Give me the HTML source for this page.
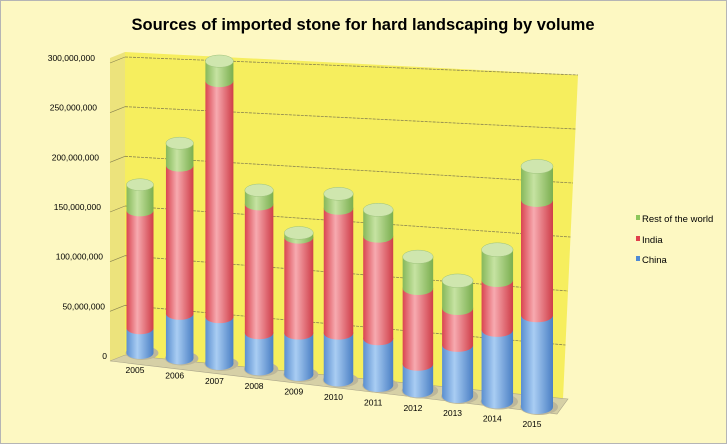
<!DOCTYPE html>
<html><head><meta charset="utf-8"><style>
html,body{margin:0;padding:0;background:#fdf8c2;}
svg{display:block;font-family:"Liberation Sans",sans-serif;}
</style></head><body>
<svg id="chart" width="727" height="444" viewBox="0 0 727 444">
<defs>
<linearGradient id="gBlue" x1="0" x2="1"><stop offset="0" stop-color="#5b8fd0"/><stop offset="0.4" stop-color="#a9cdf3"/><stop offset="1" stop-color="#4a7fc4"/></linearGradient>
<linearGradient id="gRed" x1="0" x2="1"><stop offset="0" stop-color="#d94550"/><stop offset="0.4" stop-color="#f7aab0"/><stop offset="1" stop-color="#cf3d48"/></linearGradient>
<linearGradient id="gGreen" x1="0" x2="1"><stop offset="0" stop-color="#86b85a"/><stop offset="0.4" stop-color="#c6e3a2"/><stop offset="1" stop-color="#7aae4f"/></linearGradient>
</defs>
<rect x="0.5" y="0.5" width="726" height="443" fill="#fdf8c2" stroke="#b5b5b5"/>
<text x="363" y="30" text-anchor="middle" font-size="16.5" font-weight="bold" fill="#000">Sources of imported stone for hard landscaping by volume</text>
<polygon points="110,58 125,52 125,355 110,361" fill="#ece37c"/>
<polygon points="125,52 578,75 563,399 125,355" fill="#f6ee5e"/>
<polygon points="110,361 125,355 568,399 557,414" fill="#d6d0a6" stroke="#aaa58a" stroke-width="0.6"/>
<g id="grid"></g>
<g id="bars"></g>
<g id="labels"></g>
<g>
<rect x="636" y="215" width="4" height="5" fill="#8cc65a"/>
<text x="642" y="222" font-size="9.5">Rest of the world</text>
<rect x="636" y="236" width="4" height="5" fill="#e0404c"/>
<text x="642" y="243" font-size="9.5">India</text>
<rect x="636" y="256" width="4" height="5" fill="#4f8ad4"/>
<text x="642" y="263" font-size="9.5">China</text>
</g>
</svg>
<script>
const years = ["2005","2006","2007","2008","2009","2010","2011","2012","2013","2014","2015"];
const china = [25,44,45,34,38,42,41,23,43,59,74];
const india = [119,146,227,121,88,112,90,65,31,41,93];
const rest = [26,22,19,13,4,13,23,27,23,25,27];
const yTicks = [0,50,100,150,200,250,300];
const yTickLabels = ["0","50,000,000","100,000,000","150,000,000","200,000,000","250,000,000","300,000,000"];

const NS="http://www.w3.org/2000/svg";
function mk(t,a,p){const e=document.createElementNS(NS,t);for(const k in a)e.setAttribute(k,a[k]);p.appendChild(e);return e;}
const n=years.length;
function xCenter(i){return 140+i*(537-140)/(n-1);}
function baseY(i){return 353+i*(407-353)/(n-1);}
function scale(i){return 0.99+i*(1.24-0.99)/(n-1);}
function barW(i){return 27+i*(32-27)/(n-1);}
function yAt(i,v){return baseY(i)-v*scale(i);}
function gridLeft(v){return 355-v*(298/300);}
function gridRight(v){return 399-v*(324/300);}
function gridRightX(v){return 563+v*(15/300);}
const grid=document.getElementById('grid');
yTicks.forEach((v,k)=>{
  if(v>0){const l=mk('line',{x1:125,y1:gridLeft(v),x2:gridRightX(v),y2:gridRight(v),stroke:'#8a8450','stroke-width':0.8,'stroke-dasharray':'3,1'},grid);
  
  
  const s=mk('line',{x1:110,y1:gridLeft(v)+6,x2:125,y2:gridLeft(v)},grid);s.setAttribute('stroke','#8a8450');s.setAttribute('stroke-width','0.6');
  
  }
  const t=mk('text',{x:107-k*2,y:gridLeft(v)+4,'text-anchor':'end','font-size':8.5,fill:'#000'},grid);
  t.textContent=yTickLabels[k];
  
  
});
const bars=document.getElementById('bars');
const labels=document.getElementById('labels');
const series=[{d:china,f:'url(#gBlue)',name:'china'},{d:india,f:'url(#gRed)',name:'india'},{d:rest,f:'url(#gGreen)',name:'rest'}];
for(let i=0;i<n;i++){
  const cx=xCenter(i),w=barW(i),ry=w*0.22;
  const sh=mk('ellipse',{cx:cx+2,cy:baseY(i),rx:w/2+3,ry:ry+1,fill:'#bdb79a'},bars);
  
  
  let cum=0;
  series.forEach((s,si)=>{
    const v=s.d[i];const y0=yAt(i,cum),y1=yAt(i,cum+v);
    const g=mk('g',{},bars);
    
    
    mk('ellipse',{cx:cx,cy:y0,rx:w/2,ry:ry,fill:s.f},g);
    mk('rect',{x:cx-w/2,y:y1,width:w,height:Math.max(0,y0-y1),fill:s.f},g);
    if(si===series.length-1){mk('ellipse',{cx:cx,cy:y1,rx:w/2,ry:ry,fill:'#cfe6ae',stroke:'#9cc27a','stroke-width':0.5},g);}
    cum+=v;
  });
  const t=mk('text',{x:cx-5,y:baseY(i)+20,'text-anchor':'middle','font-size':8.5,fill:'#000'},labels);
  t.textContent=years[i];
  
  
}
</script>
</body></html>
